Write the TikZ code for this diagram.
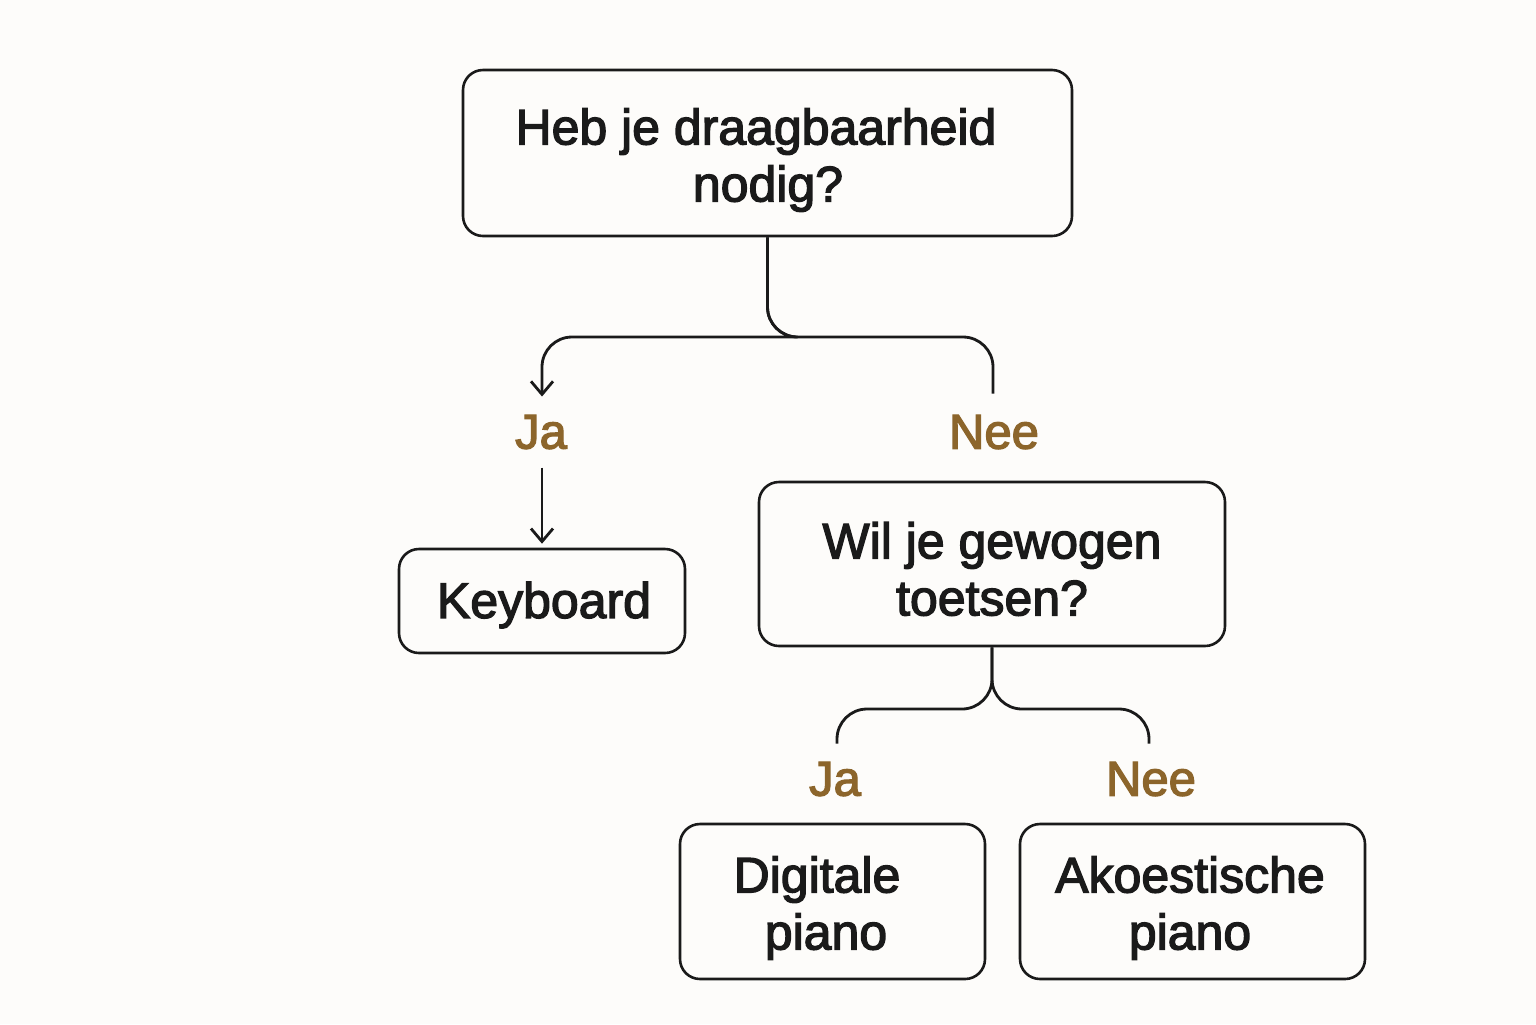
\documentclass[tikz,border=0pt]{standalone}
\usepackage{fontspec}
\setmainfont{Liberation Sans}
\newfontfamily\medfont{Liberation Sans}[FakeBold=2.6]
\usetikzlibrary{arrows.meta}
\definecolor{bg}{HTML}{FDFCFA}
\definecolor{ink}{HTML}{1A1A1A}
\definecolor{lab}{HTML}{8C652B}
\tikzset{
  box/.style={draw=ink, line width=1.3pt, rounded corners=10pt, inner sep=0pt},
  txt/.style={align=center, font=\fontsize{25}{28.5}\selectfont\medfont, text=ink, inner sep=0pt},
  lbl/.style={font=\fontsize{24.5}{28.5}\selectfont\medfont, text=lab, inner sep=9pt},
  conn/.style={draw=ink, line width=1.4pt, rounded corners=15pt},
  tip/.style={-{Straight Barb[length=6.5pt,width=11pt,line width=1.4pt]}}
}
\begin{document}
\begin{tikzpicture}[x=0.5pt,y=-0.5pt]
\fill[bg] (0,0) rectangle (1536,1024);
\useasboundingbox (0,0) rectangle (1536,1024);

\node[box, minimum width=304.5pt, minimum height=83pt] (q1) at (767.5,153) {};
\node[txt] (q1t) at (756,160) {Heb je draagbaarheid\\\hspace*{12pt}nodig?};
\node[lbl] (ja1) at (541,432) {Ja};
\node[lbl] (nee1) at (994,432) {Nee};
\node[box, minimum width=143pt, minimum height=52pt] (kb) at (542,601) {};
\node[txt] (kbt) at (544,605) {Keyboard};
\node[box, minimum width=233pt, minimum height=82pt] (q2) at (992,564) {};
\node[txt] (q2t) at (992,569) {Wil je gewogen\\toetsen?};
\node[lbl] (ja2) at (835,779) {Ja};
\node[lbl] (nee2) at (1151,779) {Nee};
\node[box, minimum width=152.5pt, minimum height=77.5pt] (dp) at (832.5,901.5) {};
\node[txt] (dpt) at (817,908) {Digitale\\\hspace*{9pt}piano};
\node[box, minimum width=172.5pt, minimum height=77.5pt] (ap) at (1192.5,901.5) {};
\node[txt] (apt) at (1190,908) {Akoestische\\piano};

\draw[conn, tip] (q1.south) |- (800,337) -| ([xshift=0.5pt]ja1.north);
\draw[conn] (q1.south) |- (900,337) -| ([xshift=-0.5pt,yshift=1.5pt]nee1.north);
\draw[conn, tip, shorten >=2pt] ([xshift=0.5pt]ja1.south) -- (kb.north);
\draw[conn] (q2.south) |- (900,709) -| ([xshift=1pt]ja2.north);
\draw[conn] (q2.south) |- (1050,709) -| ([xshift=-1pt]nee2.north);
\end{tikzpicture}
\end{document}
